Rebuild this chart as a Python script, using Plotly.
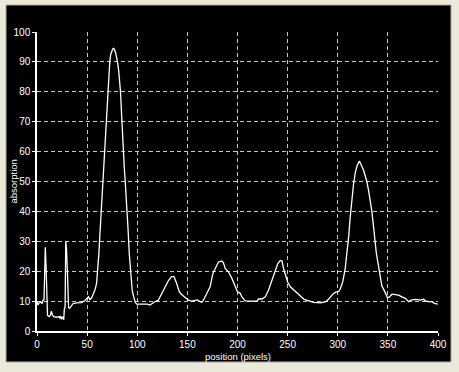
import plotly.graph_objects as go

position = [0, 1, 2, 3.7, 5, 6, 7, 7.5, 8.3, 9, 9.6, 10.5, 12, 13.4, 14.4, 15.4, 16.7, 19.4, 22, 22.7,
            23.4, 24.4, 25.4, 26.7, 27.3, 28, 28.7, 29.5, 30.3, 31, 31.5, 32.7, 34.4, 36, 39.4, 44.4,
            47.7, 50, 51.4, 52.7, 54.4, 56, 57.7, 59.4, 60.4, 61.7, 62.7, 63.7, 64.5, 65.4, 66.3, 67,
            68, 69, 70.3, 71.5, 72.6, 73.5, 74.5, 75.5, 76.5, 77.5, 78.5, 79.5, 80.5, 81.5, 82.5, 83.3,
            84.3, 85.2, 86, 87, 88, 89, 90, 91, 92, 93, 94, 95, 96, 97, 98, 99.5, 105, 110, 112.6, 115,
            117.6, 121, 124.3, 127.6, 131, 134.3, 136.7, 139.3, 142, 144.3, 147.6, 151, 154.3, 157.6,
            160, 162.7, 164.4, 166, 169.4, 172.7, 175.4, 177.7, 181, 184.4, 186, 187.7, 191, 194.4,
            197.7, 200, 202.7, 204.4, 207.7, 211, 214.4, 219.4, 221, 224.4, 227.7, 231, 234.4, 237.7,
            240.1, 242.7, 244.4, 246, 247.7, 250, 252.7, 256, 259.4, 263, 266.4, 271, 276, 283, 288,
            291, 293, 295.5, 298, 301, 302.7, 305, 307.4, 309.7, 311, 312.4, 314, 315.7, 317.5, 319.5,
            321.7, 323, 324.5, 326, 327.5, 329, 331, 332.5, 334, 335.5, 337, 338.5, 340, 342, 344,
            345.7, 348.4, 349.7, 351.7, 354, 357.4, 360.7, 364, 367.4, 370.7, 373, 377.4, 382.4, 385.7,
            387.4, 390.7, 394, 396.4, 399.7]
absorption = [10, 8.7, 9.4, 9.7, 9.2, 10.3, 10.5, 21, 28, 22, 10.5, 5.2, 4.8, 5.3, 6.6, 5.3, 4.8, 4.6, 4.8, 4.2,
              5, 3.9, 4.8, 3.8, 7.5, 7.8, 30, 27, 20, 8, 7.8, 7.6, 8.6, 9.2, 9.4, 9.5,
              10.1, 10.8, 11.5, 10.5, 11, 12.3, 13.6, 15.8, 19.5, 25.8, 32, 38, 44, 50, 56, 60,
              66, 72, 80, 85, 90, 92.5, 93.8, 94.3, 94.5, 94, 93, 91.5, 89.5, 87, 83, 80,
              73, 66, 60, 55, 50, 45, 40, 33, 26, 20.5, 16.5, 13.5, 12, 10.5, 9.6, 9, 9, 9, 8.7, 9.3,
              9.8, 10.3, 12.5, 14.7, 16.8, 18.2, 18.2, 15.9, 13.1, 12.2, 11.4, 10.3, 10, 10.2,
              10.4, 9.8, 9.6, 10.3, 12.6, 14.8, 19.2, 20.6, 23.1, 23.4, 22.8, 20.9, 19.8, 17.6,
              14.8, 13.1, 12.6, 11.4, 10.1, 10, 10, 10, 10.7, 10.7, 11.4, 13.7, 17, 20.3,
              22.5, 23.6, 23.4, 20.8, 19.2, 16.4, 14.8, 13.7, 12.6, 11.6, 10.6, 10, 9.6, 9.4, 9.8,
              10.7, 11.5, 12.5, 13, 13.2, 14.2, 16.5, 20.8, 27, 32, 38, 43.7, 49, 53, 55.5,
              56.8, 55.5, 54.8, 53.5, 52, 50, 46.5, 43.5, 40, 35.5, 30.5, 26, 23, 18.5, 15,
              14, 12.3, 11.1, 11.4, 12.3, 12.2, 12, 11.4, 10.9, 9.8, 10.3, 10.6, 10.3, 10.6,
              10.1, 9.8, 9.8, 9.2, 9]

x_ticks = [0, 50, 100, 150, 200, 250, 300, 350, 400]
y_ticks = [0, 10, 20, 30, 40, 50, 60, 70, 80, 90, 100]
x_title = "position (pixels)"
y_title = "absorption"

W, H = 459, 372
ML, MR, MT, MB = 37, 21, 32, 41
pw, ph = W - ML - MR, H - MT - MB

def px_x(p):
    return (p - ML) / pw

def px_y(p):
    return (H - MB - p) / ph

fig = go.Figure()
fig.add_trace(go.Scatter(x=position, y=absorption, mode="lines",
                         line=dict(color="white", width=1.3), hoverinfo="skip"))

font = dict(family="Liberation Sans, Arial, sans-serif", size=10, color="white")
grid = dict(showgrid=True, gridcolor="#C8C8C8", gridwidth=1, griddash="4px,3px",
            zeroline=False, showline=True, linecolor="white", linewidth=1.5,
            ticks="outside", ticklen=3, tickcolor="white", tickwidth=1,
            tickfont=font, fixedrange=True)

fig.update_xaxes(range=[0, 400], tickvals=x_ticks, **grid)
fig.update_yaxes(range=[0, 100], tickvals=y_ticks, **grid)

fig.update_layout(
    width=W, height=H, autosize=False,
    margin=dict(l=ML, r=MR, t=MT, b=MB, pad=0),
    paper_bgcolor="#ECE9D8", plot_bgcolor="black",
    showlegend=False,
    shapes=[dict(type="rect", xref="paper", yref="paper", layer="below",
                 x0=px_x(6), x1=px_x(451), y0=px_y(362), y1=px_y(5),
                 fillcolor="black", line=dict(color="#A8A8A0", width=1))],
    annotations=[
        dict(text=x_title, xref="paper", yref="paper", x=0.5, y=0, xanchor="center",
             yanchor="middle", yshift=-25, showarrow=False,
             font=dict(family="Liberation Sans, Arial, sans-serif", size=9.5, color="white")),
        dict(text=y_title, xref="paper", yref="paper", x=0, y=0.5, xanchor="center",
             yanchor="middle", xshift=-24, textangle=-90, showarrow=False,
             font=dict(family="Liberation Sans, Arial, sans-serif", size=9.5, color="white")),
    ],
)

fig.write_html("out.html", config={"displayModeBar": False})
